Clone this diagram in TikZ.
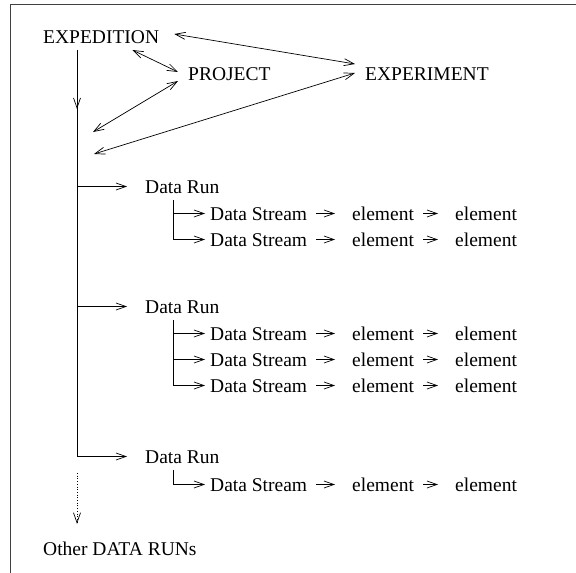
\documentclass[tikz,border=0pt]{standalone}
\usepackage{fontspec}
\setmainfont{Liberation Serif}
\usetikzlibrary{arrows.meta, positioning, calc}

\begin{document}
\begin{tikzpicture}[x=1pt, y=1pt,
  lbl/.style={inner sep=0pt, anchor=base west, text height=13pt, text depth=0pt, font=\fontsize{19.5}{23}\selectfont},
  link/.style={line width=0.7pt, {Straight Barb[length=10pt,width=7pt]}-{Straight Barb[length=10pt,width=7pt]}},
  feed/.style={line width=0.7pt, -{Straight Barb[length=10pt,width=7pt]}},
  chain/.style={feed, shorten <=9pt, shorten >=17pt}]
  \useasboundingbox (0,0) rectangle (576,-573);

  % Frame (left and top edges only)
  \draw[line width=1pt, black!75] (10,-573) -- (10,-4) -- (576,-4);

  % Top level
  \node[lbl] (expedition) at (43,-43) {EXPEDITION};
  \node[lbl] (project) at (188,-80) {PROJECT};
  \node[lbl] (experiment) at (365,-80) {EXPERIMENT};

  % Free ends on the trunk side
  \coordinate (trunk) at (77,-50);
  \coordinate (trunkmid) at (77,-109);
  \coordinate (pin1) at (93,-132);
  \coordinate (pin2) at (94,-154);

  \draw[link] ([xshift=-27pt,yshift=-7pt]expedition.base east) -- ([xshift=-10pt,yshift=1.5pt]project.west);
  \draw[link] ([xshift=15pt,yshift=2.5pt]expedition.east) -- ([xshift=-10pt,yshift=9.5pt]experiment.west);
  \draw[link] ([xshift=-10pt,yshift=-7.5pt]project.west) -- (pin1);
  \draw[link] ([xshift=-10pt,yshift=0.5pt]experiment.west) -- (pin2);

  % Data runs
  \node[lbl] (run1) at (145,-193) {Data Run};
  \node[lbl] (run2) at (145,-313) {Data Run};
  \node[lbl] (run3) at (145,-463) {Data Run};

  % Trunk
  \draw[line width=0.7pt] (trunk) -- (trunk |- run3.west);
  \draw[feed] (trunk) -- (trunkmid);
  \draw[feed] (trunk |- run1.west) -- ([xshift=-18pt]run1.west);
  \draw[feed] (trunk |- run2.west) -- ([xshift=-18pt]run2.west);
  \draw[feed] (trunk |- run3.west) -- ([xshift=-18pt]run3.west);

  % Run 1 streams
  \node[lbl] (s11) at (210,-220) {Data Stream};
  \node[lbl] (e11a) at (352,-220) {element};
  \node[lbl] (e11b) at (455,-220) {element};
  \node[lbl] (s12) at (210,-246) {Data Stream};
  \node[lbl] (e12a) at (352,-246) {element};
  \node[lbl] (e12b) at (455,-246) {element};
  \draw[feed] ([xshift=28pt,yshift=-7pt]run1.south west) |- ([xshift=-5pt]s11.west);
  \draw[feed] ([xshift=28pt,yshift=-7pt]run1.south west) |- ([xshift=-5pt]s12.west);
  \draw[chain] (s11) -- (e11a);
  \draw[chain] (e11a) -- (e11b);
  \draw[chain] (s12) -- (e12a);
  \draw[chain] (e12a) -- (e12b);

  % Run 2 streams
  \node[lbl] (s21) at (210,-340) {Data Stream};
  \node[lbl] (e21a) at (352,-340) {element};
  \node[lbl] (e21b) at (455,-340) {element};
  \node[lbl] (s22) at (210,-366) {Data Stream};
  \node[lbl] (e22a) at (352,-366) {element};
  \node[lbl] (e22b) at (455,-366) {element};
  \node[lbl] (s23) at (210,-392) {Data Stream};
  \node[lbl] (e23a) at (352,-392) {element};
  \node[lbl] (e23b) at (455,-392) {element};
  \draw[feed] ([xshift=28pt,yshift=-7pt]run2.south west) |- ([xshift=-5pt]s21.west);
  \draw[feed] ([xshift=28pt,yshift=-7pt]run2.south west) |- ([xshift=-5pt]s22.west);
  \draw[feed] ([xshift=28pt,yshift=-7pt]run2.south west) |- ([xshift=-5pt]s23.west);
  \draw[chain] (s21) -- (e21a);
  \draw[chain] (e21a) -- (e21b);
  \draw[chain] (s22) -- (e22a);
  \draw[chain] (e22a) -- (e22b);
  \draw[chain] (s23) -- (e23a);
  \draw[chain] (e23a) -- (e23b);

  % Run 3 streams
  \node[lbl] (s31) at (210,-491) {Data Stream};
  \node[lbl] (e31a) at (352,-491) {element};
  \node[lbl] (e31b) at (455,-491) {element};
  \draw[feed] ([xshift=28pt,yshift=-7pt]run3.south west) |- ([xshift=-5pt]s31.west);
  \draw[chain] (s31) -- (e31a);
  \draw[chain] (e31a) -- (e31b);

  % More runs
  \node[lbl] (other) at (43,-555) {Other DATA RUNs};
  \coordinate (dots) at (77,-473);
  \draw[feed, dotted] (dots) -- ([yshift=18pt]dots |- other.north);
\end{tikzpicture}
\end{document}
